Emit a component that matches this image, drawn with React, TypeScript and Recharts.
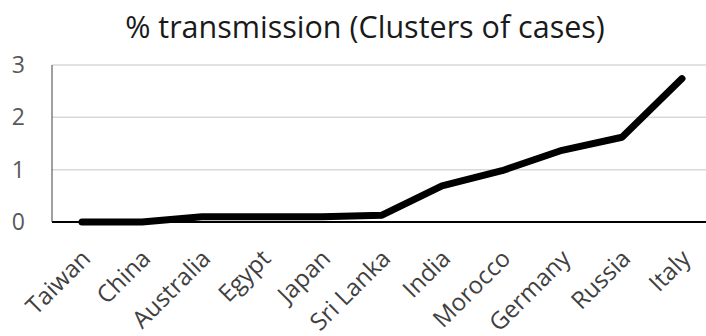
import { CartesianGrid, Line, LineChart, XAxis, YAxis } from "recharts";

const countries = [
  "Taiwan",
  "China",
  "Australia",
  "Egypt",
  "Japan",
  "Sri Lanka",
  "India",
  "Morocco",
  "Germany",
  "Russia",
  "Italy"
];

const transmission = [0, 0, 0.1, 0.1, 0.1, 0.13, 0.69, 0.98, 1.37, 1.62, 2.74];

const yTicks = [0, 1, 2, 3];

const chartData = countries.map((country, i) => ({
  country,
  value: transmission[i]
}));

const FONT = "'Open Sans', 'Liberation Sans', sans-serif";

// Rotated category label, anchored at its end like the spreadsheet original.
function CountryTick(props: any) {
  const { x, y, payload } = props;
  const ax = x + 10;
  const ay = y + 30;
  return (
    <text
      x={ax}
      y={ay}
      textAnchor="end"
      fill="#404040"
      fontSize={24}
      fontFamily={FONT}
      transform={`rotate(-45, ${ax}, ${ay})`}
    >
      {payload.value}
    </text>
  );
}

export default function App() {
  return (
    <div
      style={{
        position: "absolute",
        left: 0,
        top: 0,
        width: 706,
        height: 336,
        overflow: "hidden",
        background: "#fff"
      }}
    >
      <div
        style={{
          position: "absolute",
          top: 6,
          left: 0,
          width: 730,
          textAlign: "center",
          fontFamily: FONT,
          fontSize: 30.5,
          color: "#1a1a1a",
          lineHeight: "40px",
          whiteSpace: "nowrap"
        }}
      >
        % transmission (Clusters of cases)
      </div>
      <LineChart
        width={712}
        height={336}
        data={chartData}
        margin={{ top: 65, right: 0, bottom: 0, left: 0 }}
      >
        <CartesianGrid vertical={false} stroke="#d9d9d9" strokeWidth={1.5} />
        <XAxis
          dataKey="country"
          interval={0}
          height={114}
          padding={{ left: 30, right: 30 }}
          tickLine={false}
          axisLine={{ stroke: "#000", strokeWidth: 2 }}
          tick={<CountryTick />}
        />
        <YAxis
          domain={[0, 3]}
          ticks={yTicks}
          width={52}
          tickLine={false}
          tickMargin={21}
          axisLine={{ stroke: "#404040", strokeWidth: 1 }}
          tick={{ fill: "#595959", fontSize: 23, fontFamily: FONT }}
        />
        <Line
          type="linear"
          dataKey="value"
          stroke="#000"
          strokeWidth={7}
          dot={false}
          strokeLinejoin="round"
          strokeLinecap="round"
          isAnimationActive={false}
        />
      </LineChart>
    </div>
  );
}
